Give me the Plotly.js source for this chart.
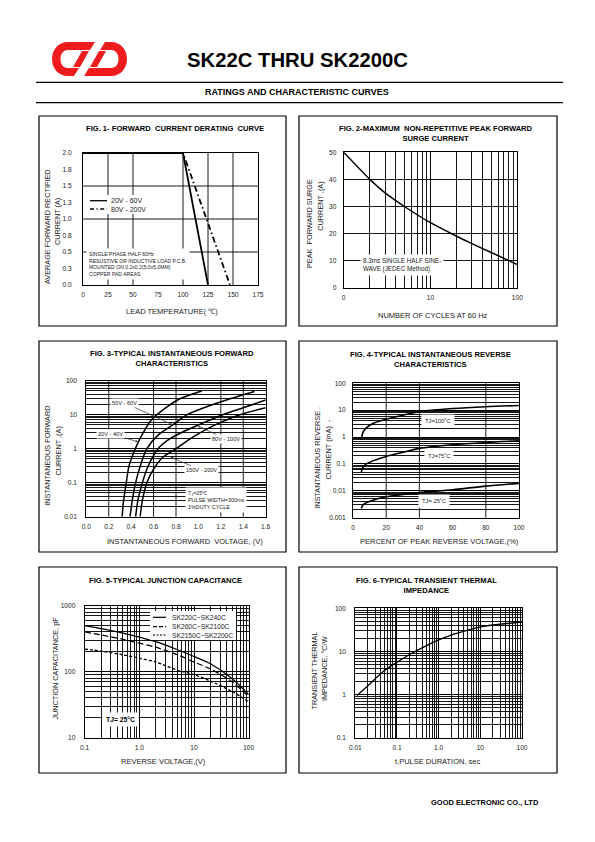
<!DOCTYPE html>
<html><head><meta charset="utf-8">
<script src="https://cdn.plot.ly/plotly-3.0.1.min.js"></script>
<style>html,body{margin:0;padding:0;background:#fff}</style>
</head><body><div id="chart" style="width:595px;height:842px"></div>
<script>
// ---------- DATA ----------
// Fig 1 forward current derating
const fig1TempSolid = [0, 100, 125];
const fig1CurrSolid = [2, 2, 0];
const fig1TempDash = [0, 100, 147];
const fig1CurrDash = [2, 2, 0];
const fig1XTicks = [0, 25, 50, 75, 100, 125, 150, 175];
const fig1YTicks = [0, 0.25, 0.5, 0.75, 1, 1.25, 1.5, 1.75, 2];
const fig1YLabels = ['0.0','0.3','0.5','0.8','1.0','1.3','1.5','1.8','2.0'];
const fig1XGrid = [25, 50, 100, 125, 150];
const fig1YGrid = [0.5, 1, 1.5];
// Fig 2 surge current
const fig2Cycles = [1, 2, 3, 5, 10, 20, 30, 50, 80, 100];
const fig2Surge = [50, 40, 35, 30, 24, 19, 16.3, 13, 10, 8.5];
const fig2XTicks = [1, 10, 100];
const fig2XLabels = ['0', '10', '100'];
// Fig 3 forward characteristics
const fig3V_20_40 = [0.32, 0.33, 0.36, 0.38, 0.42, 0.48, 0.58, 0.72, 0.84, 1.03];
const fig3I_20_40 = [0.01, 0.025, 0.12, 0.3, 0.73, 2, 7, 17, 30, 50];
const fig3V_50_60 = [0.39, 0.41, 0.44, 0.48, 0.54, 0.64, 0.77, 0.9, 1.05, 1.25, 1.5];
const fig3I_50_60 = [0.01, 0.03, 0.1, 0.3, 1, 2.5, 5, 10, 16, 27, 48];
const fig3V_80_100 = [0.44, 0.46, 0.5, 0.55, 0.64, 0.75, 0.85, 1.0, 1.2, 1.4, 1.6];
const fig3I_80_100 = [0.01, 0.03, 0.1, 0.3, 1, 2, 3, 5, 9.5, 16, 27];
const fig3V_150_200 = [0.48, 0.5, 0.54, 0.6, 0.68, 0.8, 0.95, 1.15, 1.37, 1.6];
const fig3I_150_200 = [0.01, 0.03, 0.1, 0.25, 0.55, 1, 2.2, 5, 10, 16];
const fig3XTicks = [0, 0.2, 0.4, 0.6, 0.8, 1.0, 1.2, 1.4, 1.6];
const fig3XLabels = ['0.0','0.2','0.4','0.6','0.8','1.0','1.2','1.4','1.6'];
const fig3XGrid = [0.2, 0.6, 0.8, 1.2, 1.4];
const fig3YTicks = [0.01, 0.1, 1, 10, 100];
const fig3YLabels = ['0.01', '0.1', '1', '10', '100'];
// Fig 4 reverse characteristics
const fig4Pct = [5, 6, 8, 12, 20, 30, 40, 60, 80, 100];
const fig4I_100 = [0.78, 1.5, 2.2, 3.2, 4.6, 6.5, 8.8, 11.5, 13.5, 15];
const fig4I_75 = [0.05, 0.075, 0.1, 0.13, 0.19, 0.27, 0.38, 0.52, 0.63, 0.72];
const fig4I_25 = [0.0022, 0.003, 0.0036, 0.0045, 0.006, 0.0073, 0.0087, 0.011, 0.015, 0.019];
const fig4XTicks = [0, 20, 40, 60, 80, 100];
const fig4XGrid = [20, 40, 80];
const fig4YTicks = [0.001, 0.01, 0.1, 1, 10, 100];
const fig4YLabels = ['0.001', '0.01', '0.1', '1', '10', '100'];
// Fig 5 junction capacitance
const fig5V = [0.1, 0.2, 0.5, 1, 2, 5, 10, 20, 50, 100];
const fig5C_220_240 = [500, 450, 385, 335, 285, 215, 170, 132, 78, 45];
const fig5C_260_2100 = [400, 360, 310, 270, 235, 180, 140, 110, 70, 42];
const fig5C_2150_2200 = [220, 205, 180, 160, 140, 105, 90, 72, 50, 35];
const fig5XTicks = [0.1, 1, 10, 100];
const fig5XLabels = ['0.1', '1.0', '10', '100'];
const fig5YTicks = [10, 100, 1000];
const fig5YLabels = ['10', '100', '1000'];
// Fig 6 transient thermal impedance
const fig6T = [0.011, 0.02, 0.05, 0.1, 0.2, 0.5, 1, 2, 5, 10, 20, 50, 100];
const fig6Z = [0.95, 1.6, 3.6, 5.6, 8.5, 13.5, 18.5, 24, 31, 37, 41, 45, 48];
const fig6XTicks = [0.01, 0.1, 1, 10, 100];
const fig6XLabels = ['0.01', '0.1', '1.0', '10', '100'];
const fig6YTicks = [0.1, 1, 10, 100];
const fig6YLabels = ['0.1', '1', '10', '100'];

// ---------- HELPERS ----------
const W = 595, H = 842;
const FONT = 'Liberation Sans, Arial, sans-serif';
const px = x => x / W, py = y => 1 - y / H;
const dx = (a, b) => [a / W, b / W];
const dy = (a, b) => [1 - b / H, 1 - a / H];

function axis(domain, anchor, extra) {
  return Object.assign({
    domain, anchor, showline: true, mirror: true, linecolor: '#000', linewidth: 1,
    ticks: '', showgrid: true, gridcolor: '#000', gridwidth: 0.9, zeroline: false,
    tickfont: {family: FONT, size: 6.6, color: '#222'}, fixedrange: true
  }, extra);
}
const logMinor = {tickmode: 'linear', dtick: 'D1', showgrid: true, gridcolor: '#000', gridwidth: 0.9, ticks: ''};

function line(x, y, xa, ya, dash, w, shape, sm) {
  return {x, y, xaxis: xa, yaxis: ya, mode: 'lines', showlegend: false, hoverinfo: 'skip',
    line: {color: '#000', width: w || 1.5, dash: dash || 'solid', shape: shape || 'spline', smoothing: sm || 0.8}};
}

const traces = [
  line(fig1TempSolid, fig1CurrSolid, 'x', 'y', 'solid', 1.8, 'linear'),
  line(fig1TempDash, fig1CurrDash, 'x', 'y', '6px,3px,1.5px,3px', 1.8, 'linear'),
  line(fig2Cycles, fig2Surge, 'x2', 'y2', 'solid', 1.4, 'spline', 0.5),
  line(fig3V_20_40, fig3I_20_40, 'x3', 'y3', 'solid', 1.5),
  line(fig3V_50_60, fig3I_50_60, 'x3', 'y3', 'solid', 1.5),
  line(fig3V_80_100, fig3I_80_100, 'x3', 'y3', 'solid', 1.5),
  line(fig3V_150_200, fig3I_150_200, 'x3', 'y3', 'solid', 1.5),
  line(fig4Pct, fig4I_100, 'x4', 'y4', 'solid', 1.6),
  line(fig4Pct, fig4I_75, 'x4', 'y4', 'solid', 1.6),
  line(fig4Pct, fig4I_25, 'x4', 'y4', 'solid', 1.6),
  line(fig5V, fig5C_220_240, 'x5', 'y5', 'solid', 1.3),
  line(fig5V, fig5C_260_2100, 'x5', 'y5', '6px,3px', 1.3),
  line(fig5V, fig5C_2150_2200, 'x5', 'y5', '3px,2px', 1.3),
  line(fig6T, fig6Z, 'x6', 'y6', 'solid', 1.3)
];

// ---------- SHAPES ----------
const shapes = [];
function pline(x0, y0, x1, y1, w, dash) {
  shapes.push({type: 'line', xref: 'paper', yref: 'paper', x0: px(x0), y0: py(y0), x1: px(x1), y1: py(y1),
    line: {color: '#000', width: w || 1, dash: dash || 'solid'}});
}
function prect(x0, y0, x1, y1, fill, w) {
  shapes.push({type: 'rect', xref: 'paper', yref: 'paper', x0: px(x0), y0: py(y0), x1: px(x1), y1: py(y1),
    fillcolor: fill || 'rgba(0,0,0,0)', line: {color: fill ? fill : '#000', width: fill ? 0 : (w || 1.2)}, layer: 'above'});
}
function vgrid(vals, xa, ya) {
  vals.forEach(v => shapes.push({type: 'line', xref: xa, yref: ya + ' domain', x0: v, x1: v, y0: 0, y1: 1,
    line: {color: '#000', width: 0.9}, layer: 'below'}));
}
function hgrid(vals, xa, ya) {
  vals.forEach(v => shapes.push({type: 'line', xref: xa + ' domain', yref: ya, x0: 0, x1: 1, y0: v, y1: v,
    line: {color: '#000', width: 0.9}, layer: 'below'}));
}
function pathFrom(cmds) {
  return cmds.map(c => {
    if (c.length === 1) return c[0];
    const pts = [];
    for (let i = 1; i < c.length; i += 2) pts.push(px(c[i]).toFixed(5) + ',' + py(c[i + 1]).toFixed(5));
    return c[0] + ' ' + pts.join(' ');
  }).join(' ');
}
function rot(cmds) { // 180 degree rotation of the logo glyph
  return cmds.map(c => [c[0]].concat(c.slice(1).map((v, i) => i % 2 ? 118 - v : 179 - v)));
}

// header lines
pline(36, 82.3, 563, 82.3, 1.3);
pline(36, 102.7, 563, 102.7, 1.3);
// panel boxes
prect(39, 116, 286, 326);
prect(299, 116, 557, 326);
prect(39, 341, 286, 552);
prect(299, 341, 557, 552);
prect(39, 567, 286, 773);
prect(299, 567, 557, 773);
// irregular grids
vgrid(fig1XGrid, 'x', 'y');
hgrid(fig1YGrid, 'x', 'y');
vgrid(fig3XGrid, 'x3', 'y3');
vgrid(fig4XGrid, 'x4', 'y4');

// logo
const glyphC = [['M',95,42],['L',68,42],['C',58,42,52,50,52,59],['C',52,68,58,76,68,76],['L',74,76],['L',79,68],['L',68,68],
  ['C',63,68,60.5,64,60.5,59],['C',60.5,54,63,50,68,50],['L',90,50],['Z']];
const glyphSlash = [['M',82,51],['L',89,51],['L',80,67],['L',73,67],['Z']];
[glyphC, glyphSlash, rot(glyphC), rot(glyphSlash)].forEach(g => shapes.push({
  type: 'path', xref: 'paper', yref: 'paper', path: pathFrom(g), fillcolor: '#ee1c1c', line: {width: 0}, layer: 'above'}));

// legend boxes (fig 1 and fig 5)
prect(86, 195, 152, 214, '#fff');
pline(90, 200.7, 107, 200.7, 1.3);
pline(90, 209, 107, 209, 1.3, '4px,2.5px,1.2px,2.5px');
prect(150, 611, 236, 640, '#fff');
pline(153, 617.3, 166, 617.3, 1.2);
pline(153, 626.7, 166, 626.7, 1.2, '4px,2px');
pline(153, 635, 166, 635, 1.2, '2px,1.5px');

// ---------- ANNOTATIONS ----------
const annotations = [];
function txt(text, x, y, o) {
  o = o || {};
  annotations.push({
    text, xref: 'paper', yref: 'paper', x: px(x), y: py(y), showarrow: false,
    xanchor: o.xanchor || 'center', yanchor: 'middle', align: o.align || 'center',
    textangle: o.angle || 0, bgcolor: o.bg || 'rgba(0,0,0,0)', borderpad: o.pad == null ? 1 : o.pad,
    font: {family: FONT, size: o.size || 7, color: o.color || '#000'}
  });
}
function arrow(text, xa, ya, x, y, ax, ay) {
  annotations.push({text, xref: xa, yref: ya, x, y: Math.log10(y), ax, ay, showarrow: true,
    arrowhead: 2, arrowsize: 0.7, arrowwidth: 0.7, arrowcolor: '#333', standoff: 0, bgcolor: '#fff', borderpad: 1,
    font: {family: FONT, size: 5.6, color: '#222'}});
}

// header
txt('<b>SK22C THRU SK2200C</b>', 297, 60, {size: 20.3});
txt('<b>RATINGS AND CHARACTERISTIC CURVES</b>', 297, 92, {size: 9});
txt('<b>GOOD ELECTRONIC CO., LTD</b>', 541, 802.7, {size: 7.5, xanchor: 'right'});

// titles
const TT = {size: 7.6};
txt('<b>FIG. 1- FORWARD  CURRENT DERATING  CURVE</b>', 175, 129, TT);
txt('<b>FIG. 2-MAXIMUM  NON-REPETITIVE PEAK FORWARD<br>SURGE CURRENT</b>', 436, 134, TT);
txt('<b>FIG. 3-TYPICAL INSTANTANEOUS FORWARD<br>CHARACTERISTICS</b>', 172, 358, TT);
txt('<b>FIG. 4-TYPICAL INSTANTANEOUS REVERSE<br>CHARACTERISTICS</b>', 430, 359, TT);
txt('<b>FIG. 5-TYPICAL JUNCTION CAPACITANCE</b>', 165, 580.7, TT);
txt('<b>FIG. 6-TYPICAL TRANSIENT THERMAL<br>IMPEDANCE</b>', 426, 585.5, TT);

// axis titles
const AT = {size: 7.5, color: '#222'};
const ATV = {size: 7.3, color: '#222', angle: -90};
txt('LEAD TEMPERATURE( ℃)', 171.7, 311, AT);
txt('AVERAGE FORWARD RECTIFIED', 47.3, 226.7, ATV);
txt('CURRENT (A)', 57.3, 221.7, ATV);
txt('NUMBER OF CYCLES AT 60 Hz', 433.3, 315, AT);
txt('PEAK  FORWARD SURGE', 309.7, 223.3, ATV);
txt('CURRENT ,(A)', 319.7, 206, ATV);
txt('INSTANTANEOUS FORWARD  VOLTAGE, (V)', 184.7, 541.3, AT);
txt('INSTANTANEOUS FORWARD', 48, 455.8, ATV);
txt('CURRENT ,(A)', 58.7, 450.8, ATV);
txt('PERCENT OF PEAK REVERSE VOLTAGE,(%)', 439.3, 541.3, AT);
txt('INSTANTANEOUS REVERSE .', 317.3, 457.5, ATV);
txt('CURRENT (mA)  -', 328.7, 449.7, ATV);
txt('REVERSE VOLTAGE,(V)', 163, 761.7, AT);
txt('JUNCTION CAPACITANCE, pF', 55.3, 668.3, ATV);
txt('t,PULSE DURATION, sec', 437.5, 761.7, AT);
txt('TRANSIENT THERMAL', 314.7, 670.8, ATV);
txt('IMPEDANCE, °C/W', 324.7, 668.3, ATV);

// in-plot texts
txt('20V - 60V', 108.5, 200.7, {size: 7, xanchor: 'left', color: '#222'});
txt('80V - 200V', 108.5, 209, {size: 7, xanchor: 'left', color: '#222'});
txt('SINGLE PHASE HALF 60Hz<br>RESUSTIVE OR INDUCTIVE LOAD P.C.B.<br>MOUNTED ON 0.2x0.2(5.0x5.0MM)<br>COPPER PAD AREAS',
    86, 264, {size: 5.1, xanchor: 'left', align: 'left', bg: '#fff', color: '#222', pad: 2});
txt('8.3ms SINGLE HALF SINE-<br>WAVE (JEDEC Method)', 360, 264.5, {size: 6.3, xanchor: 'left', align: 'left', bg: '#fff', color: '#222', pad: 2});
txt('T<sub>J</sub>=25℃<br>PULSE WIDTH=300ms<br>1%DUTY CYCLE', 185, 500, {size: 5.4, xanchor: 'left', align: 'left', bg: '#fff', color: '#222', pad: 2});
txt('TJ=100˚C', 438, 421, {size: 5.8, bg: '#fff', color: '#222', pad: 3});
txt('TJ=75˚C', 439, 456, {size: 5.8, bg: '#fff', color: '#222', pad: 3});
txt('TJ= 25˚C', 434, 501, {size: 5.8, bg: '#fff', color: '#222', pad: 3});
txt('SK220C~SK240C', 169.7, 617.3, {size: 6.7, xanchor: 'left', color: '#222'});
txt('SK260C~SK2100C', 169.7, 626.7, {size: 6.7, xanchor: 'left', color: '#222'});
txt('SK2150C~SK2200C', 169.7, 635, {size: 6.7, xanchor: 'left', color: '#222'});
txt('<b>TJ= 25°C</b>', 120, 719, {size: 6.8, bg: '#fff', pad: 3});

// arrows fig 3
arrow('50V - 60V', 'x3', 'y3', 0.773, 4.98, -48, -22);
arrow('20V - 40V', 'x3', 'y3', 0.461, 1.6, -27, -8);
arrow('80V - 100V', 'x3', 'y3', 0.996, 4.66, 28, 13);
arrow('150V - 200V', 'x3', 'y3', 0.753, 0.56, 31, 13);

// ---------- LAYOUT ----------
const XS = 3, YS = 7;
const layout = {
  width: W, height: H, autosize: false, margin: {l: 0, r: 0, t: 0, b: 0},
  paper_bgcolor: '#fff', plot_bgcolor: '#fff', showlegend: false,
  font: {family: FONT},
  xaxis: axis(dx(83, 258), 'y', {range: [0, 175], tickmode: 'array', tickvals: fig1XTicks, showgrid: false, ticklabelstandoff: XS}),
  yaxis: axis(dy(153, 285), 'x', {range: [0, 2], tickmode: 'array', tickvals: fig1YTicks, ticktext: fig1YLabels, showgrid: false, ticklabelstandoff: 9}),
  xaxis2: axis(dx(343.7, 517.3), 'y2', {type: 'log', range: [0, 2], tickmode: 'array', tickvals: fig2XTicks, ticktext: fig2XLabels, minor: logMinor, ticklabelstandoff: XS}),
  yaxis2: axis(dy(152.3, 287.7), 'x2', {range: [0, 50], dtick: 10, ticklabelstandoff: 5}),
  xaxis3: axis(dx(86.3, 265.7), 'y3', {range: [0, 1.6], tickmode: 'array', tickvals: fig3XTicks, ticktext: fig3XLabels, showgrid: false, ticklabelstandoff: XS}),
  yaxis3: axis(dy(380.7, 516.7), 'x3', {type: 'log', range: [-2, 2], tickmode: 'array', tickvals: fig3YTicks, ticktext: fig3YLabels, minor: logMinor, ticklabelstandoff: YS}),
  xaxis4: axis(dx(353, 519), 'y4', {range: [0, 100], tickmode: 'array', tickvals: fig4XTicks, showgrid: false, ticklabelstandoff: XS}),
  yaxis4: axis(dy(383.3, 517.7), 'x4', {type: 'log', range: [-3, 2], tickmode: 'array', tickvals: fig4YTicks, ticktext: fig4YLabels, minor: logMinor, ticklabelstandoff: 5}),
  xaxis5: axis(dx(84.7, 248.7), 'y5', {type: 'log', range: [-1, 2], tickmode: 'array', tickvals: fig5XTicks, ticktext: fig5XLabels, minor: logMinor, ticklabelstandoff: XS}),
  yaxis5: axis(dy(605.7, 737.7), 'x5', {type: 'log', range: [1, 3], tickmode: 'array', tickvals: fig5YTicks, ticktext: fig5YLabels, minor: logMinor, ticklabelstandoff: YS}),
  xaxis6: axis(dx(355.3, 522), 'y6', {type: 'log', range: [-2, 2], tickmode: 'array', tickvals: fig6XTicks, ticktext: fig6XLabels, minor: logMinor, ticklabelstandoff: XS}),
  yaxis6: axis(dy(608.3, 737.7), 'x6', {type: 'log', range: [-1, 2], tickmode: 'array', tickvals: fig6YTicks, ticktext: fig6YLabels, minor: logMinor, ticklabelstandoff: YS}),
  shapes, annotations
};

Plotly.newPlot('chart', traces, layout, {displayModeBar: false, staticPlot: true});
</script>
</body></html>
